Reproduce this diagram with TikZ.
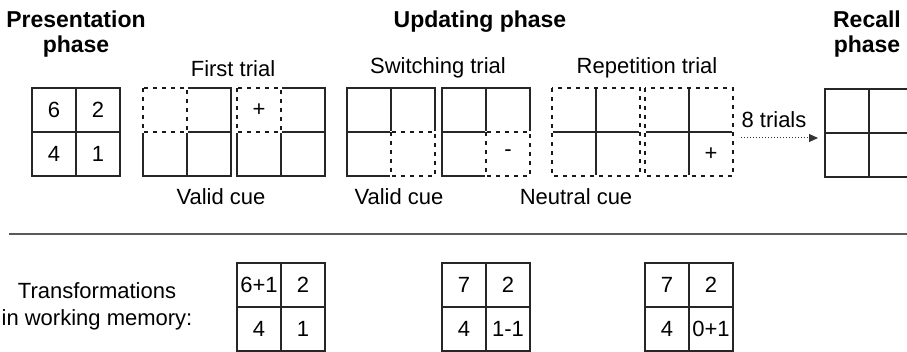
\documentclass[tikz,border=0pt]{standalone}
\usepackage{fontspec}
\setmainfont{Liberation Sans}
\usetikzlibrary{arrows.meta}
\begin{document}
\begin{tikzpicture}[x=1pt,y=-1pt,
  cell/.style={draw=black!85,line width=1.2pt},
  dcell/.style={draw=black!90,line width=2.4pt,dash pattern=on 4pt off 5pt},
  erase/.style={draw=white,line width=2.8pt},
  txt/.style={font=\fontsize{22}{26}\selectfont,inner sep=0pt},
  title/.style={font=\fontsize{23}{25}\selectfont\bfseries,inner sep=0pt,align=center},
  gridpic/.pic={\draw[cell] (0,0) rectangle (88,88); \draw[cell] (44,0)--(44,88) (0,44)--(88,44);}
]
\useasboundingbox (0,0) rectangle (907,352);
% titles
\node[title] (tp) at (76,34) {Presentation\\phase};
\node[title] (tu) at (480,22) {Updating phase};
\node[title] (tr) at (867,34) {Recall\\phase};
\node[txt] (ft) at (233,69) {First trial};
\node[txt] (st) at (438,68) {Switching trial};
\node[txt] (rt) at (647,68) {Repetition trial};
\node[txt] (vc1) at (221,197) {Valid cue};
\node[txt] (vc2) at (399,197) {Valid cue};
\node[txt] (nc) at (576,197) {Neutral cue};
% grids top
\pic at (32,88) {gridpic};
\pic at (143,88) {gridpic};
\pic at (237,88) {gridpic};
\pic at (347,88) {gridpic};
\pic at (442,88) {gridpic};
\pic at (552,88) {gridpic};
\pic at (645,88) {gridpic};
\pic at (825,89) {gridpic};
% presentation numbers
\node[txt] (p1) at (54,110) {6};
\node[txt] (p2) at (98,110) {2};
\node[txt] (p3) at (54,154) {4};
\node[txt] (p4) at (98,154) {1};
% dashed cells
\foreach \a/\b/\c/\d in {143/88/187/132, 237/88/281/132, 391/132/435/176, 486/132/530/176, 552/88/640/176, 645/88/733/176}{
  \draw[erase] (\a,\b) rectangle (\c,\d);
  \draw[dcell] (\a,\b) rectangle (\c,\d);
}
\draw[cell] (596,89)--(596,175) (553,132)--(639,132);
\draw[cell] (689,89)--(689,175) (646,132)--(732,132);
\node[txt] (plus1) at (259,110) {+};
\node[txt] (minus1) at (508,153) {-};
\node[txt] (plus2) at (711,154) {+};
% arrow
\node[txt] (eight) at (774,120) {8 trials};
\coordinate (as) at (741,138);
\coordinate (ae) at (818,138);
\draw[black!80,line width=1pt,dotted,-{Triangle[length=9pt,width=8pt]}] (as) -- (ae);
% separator
\draw[black!65,line width=1.5pt] (9,234) -- (907,234);
% bottom
\node[txt,align=center,font=\fontsize{22}{27}\selectfont] (tw) at (97,306) {Transformations\\in working memory:};
\pic at (237,263) {gridpic};
\pic at (442,263) {gridpic};
\pic at (645,263) {gridpic};
\node[txt] (b1a) at (259,285) {6+1};
\node[txt] (b1b) at (303,285) {2};
\node[txt] (b1c) at (259,329) {4};
\node[txt] (b1d) at (303,329) {1};
\node[txt] (b2a) at (464,285) {7};
\node[txt] (b2b) at (508,285) {2};
\node[txt] (b2c) at (464,329) {4};
\node[txt] (b2d) at (508,329) {1-1};
\node[txt] (b3a) at (667,285) {7};
\node[txt] (b3b) at (711,285) {2};
\node[txt] (b3c) at (667,329) {4};
\node[txt] (b3d) at (711,329) {0+1};
\end{tikzpicture}
\end{document}
